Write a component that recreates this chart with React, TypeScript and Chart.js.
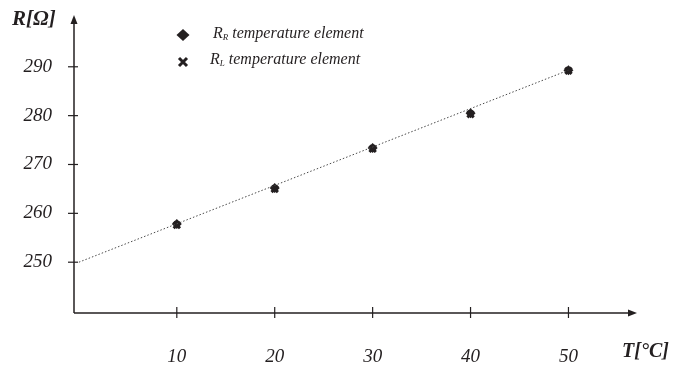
import React, { useEffect, useRef } from 'react';
import { Chart, registerables } from 'chart.js';

Chart.register(...registerables);

const temperatures = [10, 20, 30, 40, 50];
const rrValues = [257.8, 265.2, 273.4, 280.5, 289.3];
const rlValues = [257.6, 265.0, 273.2, 280.3, 289.2];
const trendT = [0, 50];
const trendR = [250, 289.3];
const xTicks = [10, 20, 30, 40, 50];
const yTicks = [250, 260, 270, 280, 290];
const yTitle = 'R[Ω]';
const xTitle = 'T[°C]';
const legendItems = [
  { main: 'R', sub: 'R', rest: ' temperature element', marker: 'diamond' },
  { main: 'R', sub: 'L', rest: ' temperature element', marker: 'cross' },
];

const INK = '#231f20';
const SERIF = '"Liberation Serif", "Times New Roman", serif';

const axesPlugin = {
  id: 'customAxes',
  afterDraw(chart: any) {
    const ctx = chart.ctx;
    const { left, right, top, bottom } = chart.chartArea;
    const xs = chart.scales.x;
    const ys = chart.scales.y;
    ctx.save();
    ctx.strokeStyle = INK;
    ctx.fillStyle = INK;
    ctx.lineWidth = 1.5;
    // y axis
    ctx.beginPath();
    ctx.moveTo(left, bottom);
    ctx.lineTo(left, top + 6);
    ctx.stroke();
    ctx.beginPath();
    ctx.moveTo(left, top);
    ctx.lineTo(left - 3.5, top + 9);
    ctx.lineTo(left + 3.5, top + 9);
    ctx.closePath();
    ctx.fill();
    // x axis
    ctx.beginPath();
    ctx.moveTo(left, bottom);
    ctx.lineTo(right - 6, bottom);
    ctx.stroke();
    ctx.beginPath();
    ctx.moveTo(right, bottom);
    ctx.lineTo(right - 9, bottom - 3.5);
    ctx.lineTo(right - 9, bottom + 3.5);
    ctx.closePath();
    ctx.fill();
    // tick marks
    ctx.lineWidth = 1.2;
    yTicks.forEach((v) => {
      const py = ys.getPixelForValue(v);
      ctx.beginPath();
      ctx.moveTo(left - 6, py);
      ctx.lineTo(left + 4, py);
      ctx.stroke();
    });
    xTicks.forEach((v) => {
      const px = xs.getPixelForValue(v);
      ctx.beginPath();
      ctx.moveTo(px, bottom - 6);
      ctx.lineTo(px, bottom + 5);
      ctx.stroke();
    });
    // titles
    ctx.textBaseline = 'alphabetic';
    ctx.textAlign = 'left';
    ctx.font = `italic bold 21px ${SERIF}`;
    ctx.fillText(yTitle, 12, 25);
    ctx.font = `italic bold 20px ${SERIF}`;
    ctx.fillText(xTitle, 622, 357);
    // legend
    const rows = [
      { mx: 183, my: 35, tx: 213, ty: 38 },
      { mx: 183, my: 62, tx: 210, ty: 64 },
    ];
    legendItems.forEach((item, i) => {
      const r = rows[i];
      ctx.fillStyle = INK;
      ctx.strokeStyle = INK;
      if (item.marker === 'diamond') {
        ctx.beginPath();
        ctx.moveTo(r.mx, r.my - 6);
        ctx.lineTo(r.mx + 6.5, r.my);
        ctx.lineTo(r.mx, r.my + 6);
        ctx.lineTo(r.mx - 6.5, r.my);
        ctx.closePath();
        ctx.fill();
      } else {
        ctx.lineWidth = 3;
        ctx.beginPath();
        ctx.moveTo(r.mx - 4, r.my - 4);
        ctx.lineTo(r.mx + 4, r.my + 4);
        ctx.moveTo(r.mx + 4, r.my - 4);
        ctx.lineTo(r.mx - 4, r.my + 4);
        ctx.stroke();
      }
      ctx.font = `italic 16px ${SERIF}`;
      ctx.fillText(item.main, r.tx, r.ty);
      let x = r.tx + ctx.measureText(item.main).width;
      ctx.font = `italic 9px ${SERIF}`;
      ctx.fillText(item.sub, x, r.ty + 2);
      x += ctx.measureText(item.sub).width;
      ctx.font = `italic 16px ${SERIF}`;
      ctx.fillText(item.rest, x, r.ty);
    });
    ctx.restore();
  },
};

export default function App() {
  const canvasRef = useRef<HTMLCanvasElement | null>(null);

  useEffect(() => {
    if (!canvasRef.current) return;
    const chart = new Chart(canvasRef.current, {
      type: 'scatter',
      data: {
        datasets: [
          {
            label: 'trend',
            data: trendT.map((t, i) => ({ x: t, y: trendR[i] })),
            showLine: true,
            borderColor: '#4a4a4a',
            borderWidth: 1,
            borderDash: [1.5, 2],
            pointRadius: 0,
          },
          {
            label: 'RR temperature element',
            data: temperatures.map((t, i) => ({ x: t, y: rrValues[i] })),
            pointStyle: 'rectRot',
            pointRadius: 5,
            backgroundColor: INK,
            borderColor: INK,
            borderWidth: 0,
          },
          {
            label: 'RL temperature element',
            data: temperatures.map((t, i) => ({ x: t, y: rlValues[i] })),
            pointStyle: 'crossRot',
            pointRadius: 4.5,
            borderColor: INK,
            borderWidth: 3,
          },
        ],
      } as any,
      options: {
        animation: false,
        responsive: false,
        layout: { padding: { top: 15, right: 48, left: 0, bottom: 0 } },
        plugins: { legend: { display: false }, tooltip: { enabled: false } },
        scales: {
          x: {
            type: 'linear',
            min: -0.5,
            max: 57,
            afterBuildTicks: (s: any) => {
              s.ticks = xTicks.map((v) => ({ value: v }));
            },
            afterFit: (s: any) => {
              s.height = 54;
              s.paddingLeft = 0;
              s.paddingRight = 0;
            },
            grid: { display: false, drawTicks: false },
            border: { display: false },
            ticks: {
              font: { family: SERIF, style: 'italic', size: 19 },
              color: INK,
              padding: 33,
              maxRotation: 0,
              autoSkip: false,
            },
          },
          y: {
            type: 'linear',
            min: 239.6,
            max: 300.6,
            afterBuildTicks: (s: any) => {
              s.ticks = yTicks.map((v) => ({ value: v }));
            },
            afterFit: (s: any) => {
              s.width = 74;
              s.paddingTop = 0;
              s.paddingBottom = 0;
            },
            grid: { display: false, drawTicks: false },
            border: { display: false },
            ticks: {
              font: { family: SERIF, style: 'italic', size: 19 },
              color: INK,
              padding: 22,
              autoSkip: false,
            },
          },
        },
      } as any,
      plugins: [axesPlugin],
    });
    return () => chart.destroy();
  }, []);

  return (
    <div style={{ position: 'fixed', left: 0, top: 0, width: 685, height: 367, background: '#fff' }}>
      <canvas ref={canvasRef} width={685} height={367} style={{ width: 685, height: 367 }} />
    </div>
  );
}
